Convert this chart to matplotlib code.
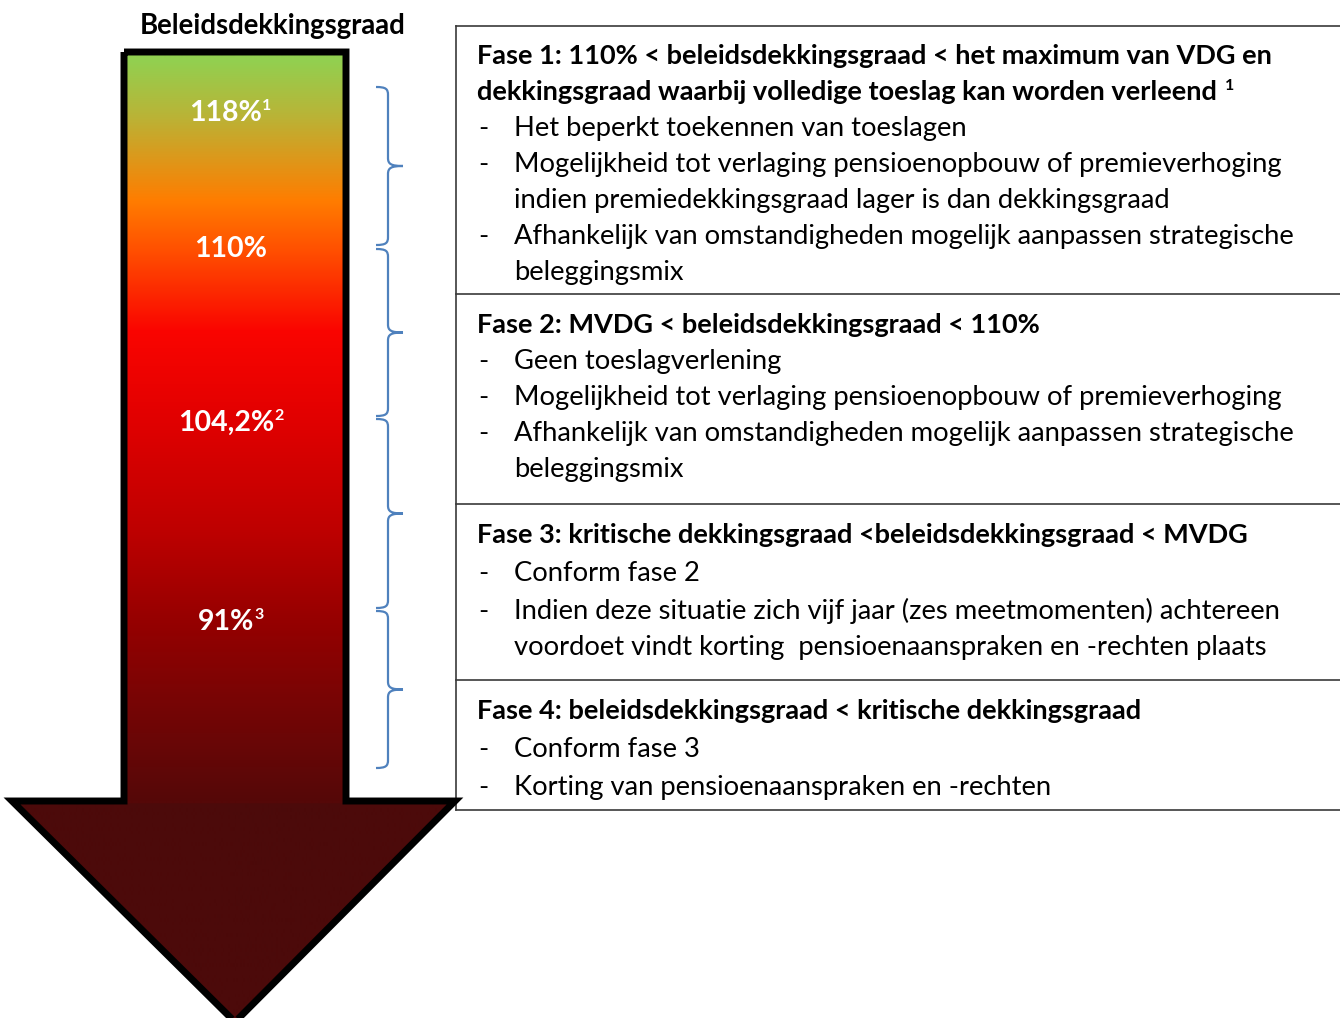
import numpy as np
import matplotlib.pyplot as plt
from matplotlib.patches import Polygon, PathPatch
from matplotlib.path import Path

plt.rcParams['font.family'] = ['Lato', 'DejaVu Sans']

# ---- data ----
title = "Beleidsdekkingsgraad"
levels = ["118%", "110%", "104,2%", "91%"]
level_notes = ["1", "", "2", "3"]

fase_heads = [
    ["Fase 1: 110% < beleidsdekkingsgraad < het maximum van VDG en",
     "dekkingsgraad waarbij volledige toeslag kan worden verleend"],
    ["Fase 2: MVDG < beleidsdekkingsgraad < 110%"],
    ["Fase 3: kritische dekkingsgraad <beleidsdekkingsgraad < MVDG"],
    ["Fase 4: beleidsdekkingsgraad < kritische dekkingsgraad"],
]
fase_notes = ["1", "", "", ""]
fase_items = [
    [["Het beperkt toekennen van toeslagen"],
     ["Mogelijkheid tot verlaging pensioenopbouw of premieverhoging",
      "indien premiedekkingsgraad lager is dan dekkingsgraad"],
     ["Afhankelijk van omstandigheden mogelijk aanpassen strategische",
      "beleggingsmix"]],
    [["Geen toeslagverlening"],
     ["Mogelijkheid tot verlaging pensioenopbouw of premieverhoging"],
     ["Afhankelijk van omstandigheden mogelijk aanpassen strategische",
      "beleggingsmix"]],
    [["Conform fase 2"],
     ["Indien deze situatie zich vijf jaar (zes meetmomenten) achtereen",
      "voordoet vindt korting  pensioenaanspraken en -rechten plaats"]],
    [["Conform fase 3"],
     ["Korting van pensioenaanspraken en -rechten"]],
]

# ---- layout (pixel coords) ----
W, H = 1340, 1018
fig = plt.figure(figsize=(W / 100, H / 100), dpi=100)
ax = fig.add_axes([0, 0, 1, 1])
ax.set_xlim(0, W)
ax.set_ylim(H, 0)
ax.axis('off')

# arrow
shaft_l, shaft_r, shaft_t, shaft_b = 124, 346, 52, 801
head_l, head_r, tip_x, tip_y = 12, 455, 235, 1022
arrow_pts = [(shaft_l, shaft_t), (shaft_r, shaft_t), (shaft_r, shaft_b), (head_r, shaft_b),
             (tip_x, tip_y), (head_l, shaft_b), (shaft_l, shaft_b)]

grad_y = [51, 60, 115, 200, 255, 330, 420, 530, 620, 700, 801]
grad_c = np.array([(146, 208, 80), (146, 208, 80), (185, 180, 55), (255, 125, 0), (255, 75, 0),
                   (250, 5, 0), (225, 0, 0), (190, 0, 0), (150, 0, 0), (120, 5, 5), (85, 8, 8)]) / 255
head_c = np.array((76, 10, 10)) / 255

ys = np.arange(shaft_t, tip_y + 1)
img = np.zeros((len(ys), 1, 3))
for k in range(3):
    img[:, 0, k] = np.interp(ys, grad_y, grad_c[:, k])
img[ys > shaft_b + 2, 0, :] = head_c

arrow = Polygon(arrow_pts, closed=True, facecolor='none', edgecolor='black', lw=5,
                joinstyle='miter', zorder=3)
ax.add_patch(arrow)
im = ax.imshow(img, extent=[head_l, head_r, tip_y, shaft_t], origin='upper', aspect='auto',
               interpolation='bilinear', zorder=2)
im.set_clip_path(arrow)
ax.set_xlim(0, W)
ax.set_ylim(H, 0)

ax.text(273, 34, title, fontsize=19.8, fontweight='bold', ha='center', va='baseline')

label_y = [121, 257, 431, 630]
fig.canvas.draw()
rend = fig.canvas.get_renderer()
inv = ax.transData.inverted()
for lab, note, y in zip(levels, level_notes, label_y):
    cx = 226 if note else 231
    t = ax.text(cx, y, lab, fontsize=20.5, fontweight='bold', color='white',
                ha='center', va='baseline', zorder=4)
    if note:
        bb = t.get_window_extent(rend)
        x1 = inv.transform((bb.x1, 0))[0]
        ax.text(x1, y - 11, note, fontsize=11.5, fontweight='bold', color='white',
                ha='left', va='baseline', zorder=4)

# braces
brace_spans = [(87, 245), (249, 416), (419, 608), (611, 768)]
xh, xs, xt = 376, 388, 403
for y0, y1 in brace_spans:
    ym = (y0 + y1) / 2
    verts = [(xh, y0), (xs - 2, y0), (xs, y0 + 2), (xs, y0 + 8),
             (xs, ym - 8),
             (xs, ym - 2), (xs + 3, ym), (xt, ym),
             (xs + 3, ym), (xs, ym + 2), (xs, ym + 8),
             (xs, y1 - 8),
             (xs, y1 - 2), (xs - 2, y1), (xh, y1)]
    codes = [Path.MOVETO, Path.CURVE4, Path.CURVE4, Path.CURVE4,
             Path.LINETO,
             Path.CURVE4, Path.CURVE4, Path.CURVE4,
             Path.CURVE4, Path.CURVE4, Path.CURVE4,
             Path.LINETO,
             Path.CURVE4, Path.CURVE4, Path.CURVE4]
    ax.add_patch(PathPatch(Path(verts, codes), facecolor='none', edgecolor='#4F81BD', lw=1.6))

# table
tab_l = 456
row_lines = [26, 294, 504, 680, 810]
lc = '#3a3a3a'
ax.plot([tab_l, tab_l], [row_lines[0], row_lines[-1]], color=lc, lw=1.2)
for y in row_lines:
    ax.plot([tab_l, W], [y, y], color=lc, lw=1.2)

head_base = [64, 333, 543, 719]
para_gap = [36, 36, 38, 38]
line_gap = 36
fs = 19.7
fs_b = 19.5
for r in range(4):
    y = head_base[r]
    for i, line in enumerate(fase_heads[r]):
        t = ax.text(477, y, line, fontsize=fs_b, fontweight='bold', ha='left', va='baseline')
        if i == len(fase_heads[r]) - 1 and fase_notes[r]:
            bb = t.get_window_extent(rend)
            x1 = inv.transform((bb.x1, 0))[0]
            ax.text(x1 + 8, y - 10, fase_notes[r], fontsize=11.5, fontweight='bold',
                    ha='left', va='baseline')
        y += line_gap
    y += para_gap[r] - line_gap
    for item in fase_items[r]:
        ax.text(478, y, "-", fontsize=fs, ha='left', va='baseline')
        for j, line in enumerate(item):
            ax.text(514, y, line, fontsize=fs, ha='left', va='baseline')
            y += line_gap if j < len(item) - 1 else para_gap[r]

fig.savefig("out.png", dpi=100)
